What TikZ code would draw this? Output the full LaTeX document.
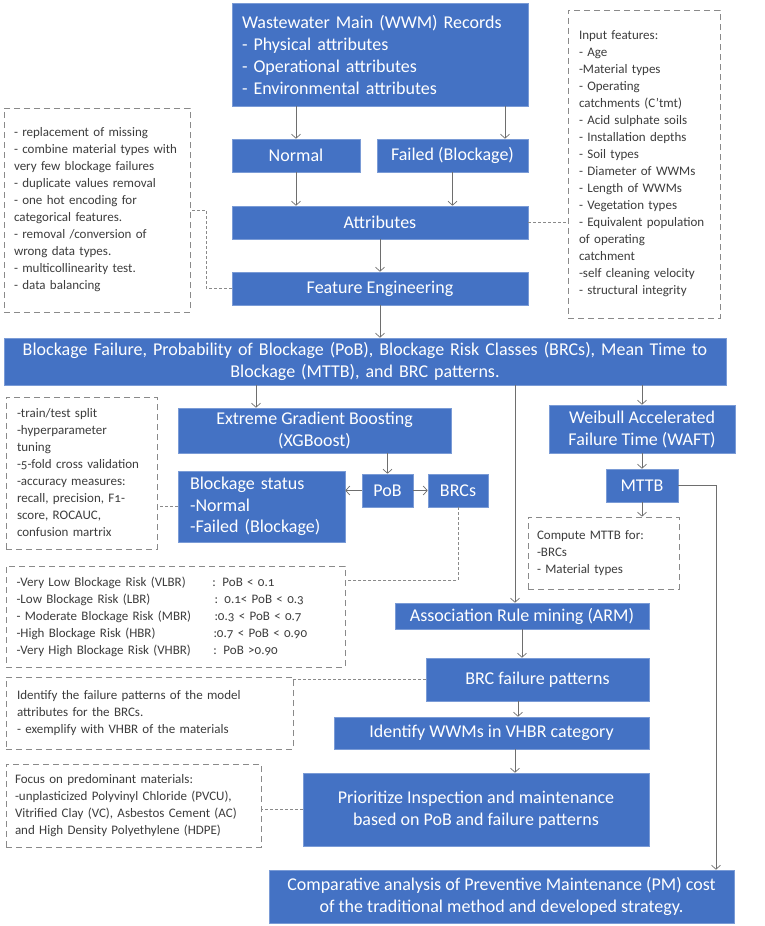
\documentclass[tikz,border=0pt]{standalone}
\usepackage{fontspec}
\setmainfont{Carlito}
\newfontfamily\notefont[Numbers=OldStyle]{Carlito}
\usetikzlibrary{arrows.meta}
\definecolor{boxblue}{HTML}{4472C4}
\definecolor{boxedge}{HTML}{7A9BD6}
\definecolor{linegray}{HTML}{6E6E6E}
\definecolor{notegray}{HTML}{8A8A8A}
\definecolor{notetext}{HTML}{3C3C3C}

\begin{document}
\begin{tikzpicture}[x=1pt, y=-1pt,
	box/.style={draw=boxedge, fill=boxblue, text=white, line width=0.6pt, inner sep=0pt,
		font=\fontsize{18}{22}\selectfont, align=center},
	note/.style={draw=notegray, dash pattern=on 6pt off 4pt, line width=0.7pt, text=notetext,
		font=\notefont\fontsize{13}{17}\selectfont, align=left, inner sep=0pt},
	flow/.style={draw=linegray, line width=0.7pt, -{Straight Barb[length=4pt,width=9pt]}},
	link/.style={draw=notegray, line width=0.7pt, dash pattern=on 3pt off 2pt}]
	\useasboundingbox (0,0) rectangle (764,926);

	% Records and data preparation
	\node[box, minimum width=296pt, minimum height=103pt, text width=276pt, align=left] (wwm) at (380,54.5)
		{Wastewater Main (WWM) Records\\- Physical attributes\\- Operational attributes\\- Environmental attributes};
	\node[box, minimum width=128pt, minimum height=33pt] (normal) at (296,155.5) {Normal};
	\node[box, minimum width=151pt, minimum height=33pt] (failed) at (452.5,155.5) {Failed (Blockage)};
	\node[box, minimum width=296pt, minimum height=33pt] (attr) at (380,222.5) {Attributes};
	\node[box, minimum width=296pt, minimum height=33pt] (fe) at (380,288.5) {Feature Engineering};

	\node[note, minimum width=186pt, minimum height=204pt, text width=166pt] (prep) at (97,210)
		{- replacement of missing\\- combine material types with\\very few blockage failures\\- duplicate values removal\\
		- one hot encoding for\\categorical features.\\- removal /conversion of\\wrong data types.\\
		- multicollinearity test.\\- data balancing};
	\node[note, minimum width=152pt, minimum height=308pt, text width=130pt] (inputs) at (644,164)
		{Input features:\\- Age\\-Material types\\- Operating\\catchments (C’tmt)\\- Acid sulphate soils\\
		- Installation depths\\- Soil types\\- Diameter of WWMs\\- Length of WWMs\\- Vegetation types\\
		- Equivalent population\\of operating\\catchment\\-self cleaning velocity\\- structural integrity\\[8pt]};

	\draw[flow] (normal |- wwm.south) -- (normal.north);
	\draw[flow] ([xshift=52.5pt]failed.north |- wwm.south) -- ([xshift=52.5pt]failed.north);
	\draw[flow] (normal.south) -- (normal.south |- attr.north);
	\draw[flow] (failed.south) -- (failed.south |- attr.north);
	\draw[flow] (attr.south) -- (fe.north);
	\draw[link] (attr.east) -- (attr.east -| inputs.west);
	\draw[link] (fe.west) -| ([xshift=16pt]prep.east) -- (prep.east);

	% Outputs
	\node[box, minimum width=722pt, minimum height=47pt, text width=712pt] (bf) at (365,361.5)
		{Blockage Failure, Probability of Blockage (PoB), Blockage Risk Classes (BRCs), Mean Time to\\
		Blockage (MTTB), and BRC patterns.};
	\draw[flow] (fe.south) -- (fe.south |- bf.north);

	% XGBoost branch
	\node[box, minimum width=273pt, minimum height=45pt] (xgb) at (314.5,430.5) {Extreme Gradient Boosting\\(XGBoost)};
	\node[box, minimum width=167pt, minimum height=71pt, text width=143pt, align=left, font=\fontsize{18}{21.5}\selectfont] (status) at (261.5,506.5)
		{Blockage status\\-Normal\\-Failed (Blockage)};
	\node[box, minimum width=51pt, minimum height=33pt] (pob) at (387.5,490.5) {PoB};
	\node[box, minimum width=60pt, minimum height=33pt] (brcs) at (458,490.5) {BRCs};

	\node[note, minimum width=151pt, minimum height=152pt, text width=129pt] (tuning) at (81.5,473)
		{-train/test split\\-hyperparameter\\tuning\\-5-fold cross validation\\-accuracy measures:\\
		recall, precision, F1-\\score, ROCAUC,\\confusion martrix};
	\node[note, minimum width=339pt, minimum height=101pt, text width=318pt] (classes) at (175.5,616.5)
		{\makebox[196pt][l]{-Very Low Blockage Risk (VLBR)}: PoB < 0.1\\
		\makebox[198pt][l]{-Low Blockage Risk (LBR)}: 0.1< PoB < 0.3\\
		\makebox[198pt][l]{- Moderate Blockage Risk (MBR)}:0.3 < PoB < 0.7\\
		\makebox[197pt][l]{-High Blockage Risk (HBR)}:0.7 < PoB < 0.90\\
		\makebox[197pt][l]{-Very High Blockage Risk (VHBR)}: PoB >0.90};

	\draw[flow] ([xshift=-58.5pt]xgb.north |- bf.south) -- ([xshift=-58.5pt]xgb.north);
	\draw[flow] (pob |- xgb.south) -- (pob.north);
	\draw[flow] (pob.west) -- (pob.west -| status.east);
	\draw[flow] (pob.east) -- (brcs.west);
	\draw[link] (status.west) -- (status.west -| tuning.east);
	\draw[link] (brcs.south) |- ([yshift=-15pt]classes.north east);

	% Weibull branch
	\node[box, minimum width=186pt, minimum height=48pt] (waft) at (642,429) {Weibull Accelerated\\Failure Time (WAFT)};
	\node[box, minimum width=72pt, minimum height=33pt] (mttb) at (642,485.5) {MTTB};
	\node[note, minimum width=151pt, minimum height=72pt, text width=133pt] (compute) at (603.5,553)
		{Compute MTTB for:\\-BRCs\\- Material types};

	\draw[flow] (waft.north |- bf.south) -- (waft.north);
	\draw[flow] (waft.south) -- (mttb.north);
	\draw[flow] (mttb.south) -- (mttb.south |- compute.north);

	% Association rules and maintenance
	\node[box, minimum width=254pt, minimum height=26pt] (arm) at (522,616) {Association Rule mining (ARM)};
	\node[box, minimum width=223pt, minimum height=43pt] (brcfp) at (537.5,679.5) {BRC failure patterns};
	\node[box, minimum width=315pt, minimum height=32pt] (wvhbr) at (491.5,733) {Identify WWMs in VHBR category};
	\node[box, minimum width=346pt, minimum height=73pt] (prio) at (476,809.5)
		{Prioritize Inspection and maintenance\\based on PoB and failure patterns};
	\node[box, minimum width=465pt, minimum height=53pt] (pm) at (501.5,896.5)
		{Comparative analysis of Preventive Maintenance (PM) cost\\of the traditional method and developed strategy.};

	\node[note, minimum width=287pt, minimum height=72pt, text width=265pt] (patterns) at (149.5,713)
		{Identify the failure patterns of the model\\attributes for the BRCs.\\- exemplify with VHBR of the materials};
	\node[note, minimum width=255pt, minimum height=83pt, text width=237pt] (materials) at (133.5,805.5)
		{Focus on predominant materials:\\-unplasticized Polyvinyl Chloride (PVCU),\\
		Vitrified Clay (VC), Asbestos Cement (AC)\\and High Density Polyethylene (HDPE)};

	\draw[flow] ([xshift=-7pt]arm.north |- bf.south) -- ([xshift=-7pt]arm.north);
	\draw[flow] (arm.south) -- (arm.south |- brcfp.north);
	\draw[flow] ([xshift=-19.5pt]brcfp.south) -- ([xshift=-19.5pt]brcfp.south |- wvhbr.north);
	\draw[flow] ([xshift=23.5pt]wvhbr.south) -- ([xshift=23.5pt]wvhbr.south |- prio.north);
	\draw[flow] (mttb.east) -| ([xshift=214.5pt]pm.north);
	\draw[link] (brcfp.west) -- (brcfp.west -| patterns.east);
	\draw[link] (prio.west) -- (prio.west -| materials.east);
\end{tikzpicture}
\end{document}
